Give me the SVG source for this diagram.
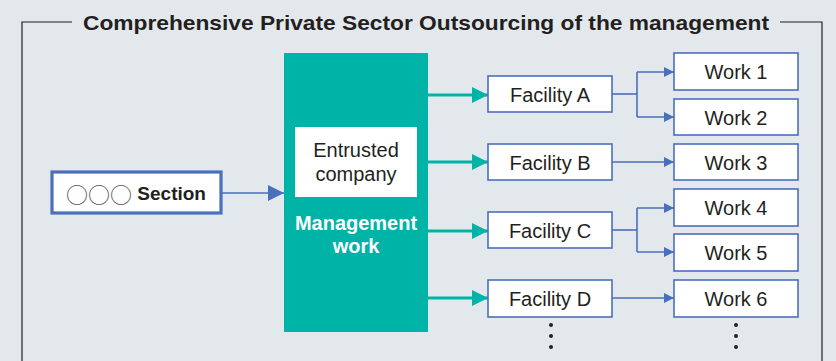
<svg xmlns="http://www.w3.org/2000/svg" width="836" height="361" viewBox="0 0 836 361">
<defs>
<style>
.t{font-family:"Liberation Sans","Noto Sans",sans-serif;fill:#231f20;text-anchor:middle;dominant-baseline:central}
.box{fill:#fff;stroke:#4a6fbf;stroke-width:1.6}
.bl{fill:none;stroke:#4a6fbf;stroke-width:1.6}
.tl{fill:none;stroke:#00b3a7;stroke-width:3}
.dot{fill:#231f20}
</style>
<marker id="ab" markerWidth="10" markerHeight="10" refX="10" refY="5" orient="auto" markerUnits="userSpaceOnUse" viewBox="0 0 10 10"><path d="M0,0L10,5L0,10Z" fill="#4a6fbf"/></marker>
<marker id="ab2" markerWidth="16" markerHeight="16" refX="16" refY="8" orient="auto" markerUnits="userSpaceOnUse" viewBox="0 0 16 16"><path d="M0,0L16,8L0,16Z" fill="#4a6fbf"/></marker>
<marker id="at" markerWidth="16" markerHeight="16" refX="16" refY="8" orient="auto" markerUnits="userSpaceOnUse" viewBox="0 0 16 16"><path d="M0,0L16,8L0,16Z" fill="#00b3a7"/></marker>
</defs>
<rect width="836" height="361" fill="#e3e8ec"/>
<g id="frame">
<path d="M72,22H22V361M780,22H822V361" fill="none" stroke="#231f20" stroke-width="1.2"/>
<text class="t" x="426" y="22" font-size="21" font-weight="bold" textLength="686" lengthAdjust="spacingAndGlyphs">Comprehensive Private Sector Outsourcing of the management</text>
</g>
<g id="connectors">
<path class="bl" d="M222,193H284" stroke-width="3" marker-end="url(#ab2)"/>
<path class="tl" d="M428,95H488" marker-end="url(#at)"/>
<path class="tl" d="M428,162H488" marker-end="url(#at)"/>
<path class="tl" d="M428,231H488" marker-end="url(#at)"/>
<path class="tl" d="M428,298H488" marker-end="url(#at)"/>
<path class="bl" d="M612,94H637"/>
<path class="bl" d="M637,72V117"/>
<path class="bl" d="M637,72H674" marker-end="url(#ab)"/>
<path class="bl" d="M637,117H674" marker-end="url(#ab)"/>
<path class="bl" d="M612,162H674" marker-end="url(#ab)"/>
<path class="bl" d="M612,230H637"/>
<path class="bl" d="M637,208V252"/>
<path class="bl" d="M637,208H674" marker-end="url(#ab)"/>
<path class="bl" d="M637,252H674" marker-end="url(#ab)"/>
<path class="bl" d="M612,298H674" marker-end="url(#ab)"/>
</g>
<g id="section">
<rect x="52" y="172" width="169" height="41" fill="#fff" stroke="#4a6fbf" stroke-width="3.2"/>
<text class="t" x="136" y="193" font-size="19"><tspan style="font-family:'Noto Sans CJK JP',sans-serif;fill:#555" font-size="22">○○○</tspan><tspan font-weight="bold"> Section</tspan></text>
</g>
<g id="management">
<rect x="284" y="53" width="144" height="279" fill="#00b3a7"/>
<rect x="295" y="127" width="122" height="70" fill="#fff"/>
<text class="t" x="356" y="150" font-size="20">Entrusted</text>
<text class="t" x="356" y="174" font-size="20">company</text>
<text class="t" x="356" y="223" font-size="20" font-weight="bold" style="fill:#fff">Management</text>
<text class="t" x="356" y="246" font-size="20" font-weight="bold" style="fill:#fff">work</text>
</g>
<g id="facilityA"><rect class="box" x="488" y="76" width="124" height="36"/><text class="t" x="550" y="95" font-size="20">Facility A</text></g>
<g id="facilityB"><rect class="box" x="488" y="144" width="124" height="36"/><text class="t" x="550" y="163" font-size="20">Facility B</text></g>
<g id="facilityC"><rect class="box" x="488" y="212" width="124" height="36"/><text class="t" x="550" y="231" font-size="20">Facility C</text></g>
<g id="facilityD"><rect class="box" x="488" y="280" width="124" height="37"/><text class="t" x="550" y="299" font-size="20">Facility D</text></g>
<g id="work1"><rect class="box" x="674" y="53" width="124" height="37"/><text class="t" x="736" y="72" font-size="20">Work 1</text></g>
<g id="work2"><rect class="box" x="674" y="99" width="124" height="36"/><text class="t" x="736" y="118" font-size="20">Work 2</text></g>
<g id="work3"><rect class="box" x="674" y="144" width="124" height="36"/><text class="t" x="736" y="163" font-size="20">Work 3</text></g>
<g id="work4"><rect class="box" x="674" y="189" width="124" height="37"/><text class="t" x="736" y="208" font-size="20">Work 4</text></g>
<g id="work5"><rect class="box" x="674" y="234" width="124" height="37"/><text class="t" x="736" y="253" font-size="20">Work 5</text></g>
<g id="work6"><rect class="box" x="674" y="280" width="124" height="37"/><text class="t" x="736" y="299" font-size="20">Work 6</text></g>
<g id="dots">
<circle class="dot" cx="551" cy="325" r="2"/><circle class="dot" cx="551" cy="336" r="2"/><circle class="dot" cx="551" cy="347" r="2"/>
<circle class="dot" cx="736" cy="325" r="2"/><circle class="dot" cx="736" cy="336" r="2"/><circle class="dot" cx="736" cy="347" r="2"/>
</g>
</svg>
